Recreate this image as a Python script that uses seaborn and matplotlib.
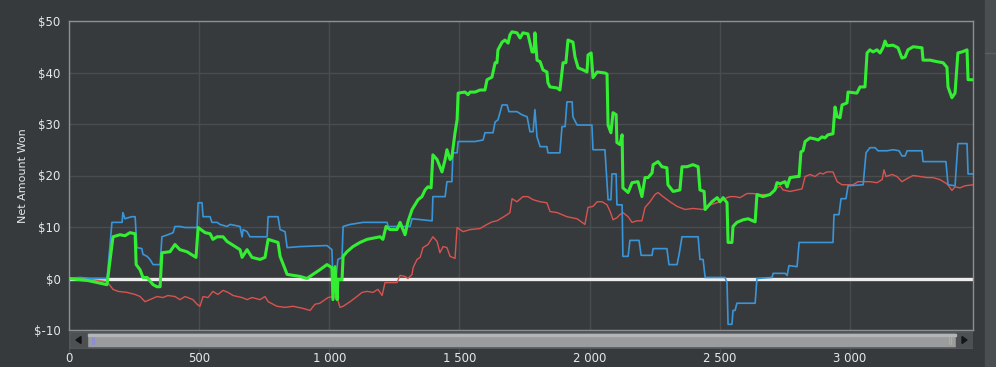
import numpy as np
import pandas as pd
import matplotlib
matplotlib.use("Agg")
import matplotlib.pyplot as plt
from matplotlib.patches import Rectangle, Polygon
import seaborn as sns

# ---------------- data ----------------
green_x = [0, 73, 146, 158, 169, 196, 215, 234, 254, 258, 273, 284, 300, 323, 338, 350, 357, 388, 407, 426,
           453, 488, 496, 523, 542, 553, 569, 592, 607, 657, 665, 684, 703, 734, 753, 765, 803, 811, 838, 888,
           914, 937, 964, 991, 1010, 1014, 1022, 1030, 1033, 1049, 1053, 1068, 1091, 1118, 1145, 1176, 1195,
           1206, 1218, 1233, 1260, 1272, 1291, 1302, 1318, 1329, 1341, 1356, 1368, 1379, 1391, 1398, 1414,
           1425, 1433, 1445, 1452, 1464, 1471, 1483, 1491, 1495, 1521, 1533, 1541, 1560, 1579, 1598, 1606,
           1625, 1637, 1644, 1648, 1664, 1675, 1687, 1694, 1702, 1721, 1733, 1744, 1763, 1779, 1787, 1790,
           1798, 1810, 1821, 1836, 1840, 1848, 1875, 1886, 1898, 1909, 1917, 1936, 1944, 1956, 1975, 1990,
           1994, 2006, 2013, 2029, 2059, 2067, 2071, 2082, 2090, 2102, 2105, 2117, 2125, 2128, 2148, 2163,
           2186, 2201, 2213, 2225, 2240, 2244, 2263, 2278, 2297, 2301, 2321, 2347, 2355, 2374, 2397, 2417,
           2424, 2440, 2444, 2470, 2490, 2501, 2513, 2528, 2532, 2547, 2551, 2566, 2590, 2609, 2636, 2643,
           2666, 2693, 2712, 2720, 2732, 2751, 2759, 2770, 2797, 2805, 2812, 2820, 2828, 2847, 2866, 2878,
           2893, 2904, 2916, 2935, 2943, 2951, 2962, 2970, 2989, 2993, 3027, 3039, 3058, 3066, 3077, 3089,
           3104, 3116, 3127, 3135, 3143, 3166, 3185, 3200, 3212, 3223, 3243, 3277, 3281, 3308, 3335, 3358,
           3373, 3377, 3392, 3404, 3415, 3431, 3450, 3454, 3473]
green_y = [0, -0.4, -1.2, 3.7, 8.1, 8.5, 8.3, 8.9, 8.7, 2.7, 1.7, 0.2, 0.2, -1.2, -1.6, -1.6, 5.0, 5.2, 6.6, 5.6,
           5.2, 4.1, 9.9, 8.9, 8.7, 7.6, 8.1, 8.1, 7.2, 5.6, 4.1, 5.6, 4.1, 3.7, 4.1, 7.6, 7.0, 4.3, 0.8, 0.4,
           0.0, 0.8, 1.7, 2.7, 2.1, -4.1, 2.3, -4.1, -0.2, -0.2, 4.3, 5.2, 6.2, 7.0, 7.6, 7.9, 8.1,
           7.6, 10.1, 9.5, 9.5, 10.9, 8.5, 11.0, 13.4, 14.3, 15.3, 15.9, 17.2, 17.8, 17.6, 24.0, 23.1,
           21.7, 20.7, 23.1, 25.0, 23.1, 23.6, 28.3, 30.8, 36.0, 36.2, 35.7, 36.2, 36.2, 36.6, 36.6, 38.6,
           39.1, 41.9, 41.9, 44.4, 45.9, 46.3, 45.7, 47.3, 47.9, 47.7, 46.7, 47.7, 47.5, 44.0, 44.0, 47.7,
           42.4, 42.1, 40.5, 40.1, 38.0, 37.2, 37.0, 36.6, 41.9, 41.9, 46.3, 45.9, 43.0, 40.9, 40.5, 40.1,
           43.4, 43.8, 39.0, 40.1, 39.9, 39.7, 29.8, 28.3, 32.2, 31.8, 26.4, 26.0, 27.9, 17.6, 16.7, 18.6,
           18.8, 15.9, 19.6, 19.6, 20.5, 22.1, 22.7, 21.7, 21.5, 18.2, 16.9, 17.2, 21.7, 21.7, 22.1, 21.7,
           17.2, 16.9, 13.4, 14.9, 15.7, 14.9, 15.7, 14.7, 7.0, 7.0, 10.1, 10.9, 11.4, 11.6, 11.0, 16.3,
           15.9, 16.3, 17.2, 18.6, 18.4, 18.8, 17.8, 19.6, 19.8, 19.8, 24.6, 24.8, 26.6, 27.3, 27.1, 26.9,
           27.5, 27.3, 27.9, 28.1, 33.3, 31.4, 31.2, 33.7, 34.1, 36.2, 36.0, 37.2, 37.2, 43.8, 44.4, 44.0,
           44.4, 43.8, 44.8, 46.1, 45.2, 45.3, 44.8, 42.8, 43.0, 44.4, 45.0, 44.8, 42.4, 42.4, 42.1, 41.9,
           41.0, 37.2, 35.1, 36.0, 43.8, 44.0, 44.4, 38.6, 38.6]

blue_x = [0, 42, 81, 146, 150, 165, 204, 207, 215, 227, 242, 254, 261, 280, 284, 300, 311, 323, 350, 357,
          380, 400, 407, 426, 446, 492, 496, 511, 515, 542, 549, 569, 580, 607, 619, 657, 665, 669, 684, 695,
          761, 765, 803, 811, 830, 838, 888, 991, 1010, 1014, 1026, 1033, 1049, 1053, 1080, 1130, 1222, 1226,
          1310, 1318, 1395, 1398, 1445, 1452, 1471, 1475, 1491, 1495, 1560, 1591, 1598, 1629, 1637, 1648,
          1664, 1683, 1690, 1721, 1740, 1760, 1771, 1783, 1790, 1798, 1810, 1836, 1840, 1886, 1894, 1906,
          1913, 1933, 1936, 1952, 2009, 2013, 2059, 2071, 2082, 2086, 2102, 2105, 2125, 2128, 2148, 2155,
          2190, 2198, 2240, 2244, 2297, 2305, 2336, 2344, 2355, 2417, 2424, 2436, 2444, 2520, 2528, 2532,
          2547, 2551, 2559, 2566, 2636, 2643, 2701, 2705, 2751, 2759, 2766, 2797, 2805, 2935, 2939, 2958,
          2966, 2985, 2993, 3051, 3062, 3077, 3097, 3108, 3143, 3166, 3189, 3200, 3212, 3220, 3277, 3281,
          3369, 3377, 3404, 3415, 3450, 3454, 3473]
blue_y = [0, 0.2, 0, 0, 2.1, 10.9, 10.9, 12.8, 11.6, 11.8, 12.0, 12.0, 6.0, 5.8, 4.7, 4.3, 3.7, 2.7, 2.7, 8.1,
          8.5, 8.9, 10.1, 10.1, 9.9, 9.9, 14.7, 14.7, 12.0, 12.0, 10.9, 10.9, 10.5, 10.1, 10.5, 10.1, 8.1, 9.5,
          9.1, 8.1, 8.1, 12.0, 12.0, 9.5, 9.1, 6.0, 6.2, 6.4, 5.6, -0.2, 0.2, 3.7, 4.1, 10.1, 10.5, 10.9, 10.9,
          10.1, 10.1, 11.6, 11.2, 15.9, 15.9, 18.8, 18.8, 24.4, 24.4, 26.6, 26.6, 26.9, 28.3, 28.3, 30.4, 30.8,
          33.7, 33.7, 32.4, 32.4, 31.8, 31.4, 28.5, 28.5, 32.8, 27.5, 25.6, 25.6, 24.4, 24.4, 29.5, 29.5,
          34.3, 34.3, 31.4, 29.8, 29.8, 25.0, 25.0, 15.3, 15.3, 20.3, 20.3, 14.3, 14.3, 4.3, 4.3, 7.4,
          7.4, 4.5, 4.5, 5.8, 5.8, 2.7, 2.7, 4.7, 8.1, 8.1, 3.7, 3.7, 0.2, 0.2, -0.8, -8.9,
          -8.9, -6.2, -6.2, -4.8, -4.8, 0, 0.2, 1.0, 1.0, 0.6, 2.5, 2.3, 7.0, 7.0, 12.4, 12.4,
          15.5, 15.5, 18.0, 18.2, 24.4, 25.4, 25.4, 24.8, 24.8, 25.0, 24.8, 23.8, 23.8, 24.8, 24.8, 22.7,
          22.7, 18.2, 18.0, 26.2, 26.2, 20.3, 20.3]

red_x = [0, 81, 146, 169, 188, 223, 254, 273, 292, 311, 338, 361, 380, 407, 426, 446, 476, 492, 503, 515,
         534, 553, 572, 592, 611, 630, 665, 684, 703, 734, 753, 765, 799, 830, 861, 899, 926, 945, 964, 984,
         995, 1014, 1030, 1041, 1053, 1080, 1106, 1126, 1145, 1168, 1187, 1203, 1214, 1260, 1272, 1291,
         1302, 1318, 1322, 1337, 1349, 1360, 1379, 1398, 1414, 1425, 1437, 1452, 1464, 1483, 1491, 1514,
         1541, 1579, 1606, 1625, 1644, 1664, 1683, 1694, 1702, 1721, 1744, 1763, 1783, 1810, 1836, 1848,
         1875, 1913, 1952, 1982, 1994, 2013, 2029, 2048, 2067, 2079, 2090, 2105, 2117, 2128, 2148, 2163,
         2182, 2201, 2213, 2232, 2251, 2263, 2282, 2309, 2336, 2367, 2397, 2436, 2463, 2501, 2528, 2540,
         2559, 2578, 2605, 2628, 2655, 2693, 2720, 2732, 2743, 2770, 2797, 2816, 2828, 2847, 2866, 2885,
         2897, 2912, 2935, 2951, 2970, 2993, 3012, 3031, 3051, 3077, 3104, 3124, 3131, 3139, 3162, 3181,
         3200, 3220, 3243, 3270, 3296, 3319, 3346, 3366, 3377, 3392, 3404, 3423, 3442, 3473]
red_y = [0, -0.2, -0.6, -2.1, -2.5, -2.7, -3.1, -3.5, -4.5, -4.1, -3.5, -3.7, -3.3, -3.5, -4.1, -3.5, -4.1,
         -5.0, -5.4, -3.5, -3.7, -2.5, -3.1, -2.3, -2.7, -3.3, -3.7, -4.1, -3.7, -4.1, -3.5, -4.5, -5.4, -5.6,
         -5.4, -5.8, -6.2, -5.0, -4.8, -4.1, -3.7, -3.5, -3.7, -5.6, -5.4, -4.5, -3.5, -2.7, -2.5, -2.7, -2.1,
         -3.3, -0.8, -0.8, 0.6, 0.4, 0, 0.8, 2.1, 3.7, 4.1, 6.0, 6.6, 8.1, 7.2, 5.0, 6.2, 6.0, 4.3, 3.9, 9.9,
         9.1, 9.5, 9.7, 10.5, 11.0, 11.2, 11.8, 12.4, 12.8, 15.5, 14.9, 15.9, 15.9, 15.3, 14.9, 14.7, 13.0,
         12.8, 12.0, 11.6, 10.5, 13.8, 14.0, 14.9, 14.9, 14.3, 13.0, 11.4, 11.8, 12.4, 12.8, 12.0, 10.9,
         11.2, 11.2, 13.8, 14.9, 16.3, 16.7, 15.9, 14.9, 14.0, 13.4, 13.6, 13.4, 14.3, 14.9, 15.7, 15.9,
         15.9, 15.7, 16.5, 16.5, 16.3, 16.3, 17.6, 18.0, 17.2, 16.9, 17.2, 17.4, 19.8, 20.2, 19.8, 20.5,
         20.3, 20.7, 20.7, 18.8, 18.2, 18.2, 18.2, 18.8, 18.8, 18.8, 18.6, 19.2, 21.1, 19.8, 20.2, 19.8,
         18.8, 19.4, 20.0, 19.8, 19.6, 19.6, 19.2, 18.6, 18.2, 17.1, 17.8, 17.6, 18.0, 18.2]

x_ticks = [0, 500, 1000, 1500, 2000, 2500, 3000]
x_tick_labels = ["0", "500", "1 000", "1 500", "2 000", "2 500", "3 000"]
y_ticks = [-10, 0, 10, 20, 30, 40, 50]
y_tick_labels = ["$-10", "$0", "$10", "$20", "$30", "$40", "$50"]
y_label = "Net Amount Won"

# ---------------- style ----------------
BG = "#373a3d"
GRID = "#4a4d50"
FRAME = "#8d8f91"
TXT = "#e6e8ea"

sns.set_style("dark")
plt.rcParams["font.family"] = ["DejaVu Sans"]

W, H = 996, 367
fig = plt.figure(figsize=(W / 100, H / 100), dpi=100, facecolor=BG)

def fx(px):
    return px / W

def fy(py):
    return 1 - py / H

L, R, T, B = 69, 973, 21, 330
ax = fig.add_axes([fx(L), fy(B), fx(R) - fx(L), fy(T) - fy(B)])
ax.set_facecolor(BG)

series = [
    ("red", red_x, red_y, "#d9534f", 1.0, 3),
    ("blue", blue_x, blue_y, "#3a95d8", 1.2, 4),
    ("green", green_x, green_y, "#33ee33", 2.2, 5),
]
ax.axhline(0, color="#ececec", lw=2.4, zorder=2)
for name, xs, ys, col, lw, z in series:
    df = pd.DataFrame({"game": xs, "won": ys})
    sns.lineplot(data=df, x="game", y="won", ax=ax, color=col, linewidth=lw,
                 estimator=None, sort=False, zorder=z)

ax.set_xlim(0, 3473)
ax.set_ylim(-10, 50)
ax.set_xticks(x_ticks)
ax.set_xticklabels(x_tick_labels)
ax.set_yticks(y_ticks)
ax.set_yticklabels(y_tick_labels)
ax.grid(True, color=GRID, lw=1.0)
ax.set_axisbelow(True)
ax.set_xlabel("")
ax.set_ylabel(y_label, color=TXT, fontsize=8, labelpad=4)
ax.tick_params(axis="y", colors=TXT, labelsize=8.5, length=4, width=1, pad=2, color=GRID)
ax.tick_params(axis="x", colors=TXT, labelsize=8.5, length=0, pad=16)
for s in ax.spines.values():
    s.set_color(FRAME)
    s.set_linewidth(1.0)

# ---------------- scrollbar ----------------
sax = fig.add_axes([fx(L), fy(349), fx(R) - fx(L), fy(331) - fy(349)])
sax.set_xlim(L, R)
sax.set_ylim(349, 331)
sax.axis("off")
sax.add_patch(Rectangle((L, 331), R - L, 18, color="#54575a", zorder=1))
sax.add_patch(Rectangle((88, 334), 868, 12, color="#9a9c9e", zorder=2))
sax.add_patch(Rectangle((88, 334), 868, 2, color="#b3b5b7", zorder=3))
sax.add_patch(Rectangle((71, 333), 16, 14, color="#4d5053", zorder=2))
sax.add_patch(Rectangle((956, 333), 16, 14, color="#4d5053", zorder=2))
sax.add_patch(Polygon([[76, 340], [81, 336.5], [81, 343.5]], color="#151515", zorder=4))
sax.add_patch(Polygon([[967, 340], [962, 336.5], [962, 343.5]], color="#151515", zorder=4))
for gx, gc in [(91.5, "#8a8bd0"), (93.5, "#8a8bd0"), (948.5, "#b8b85a"), (950.5, "#b8b85a")]:
    sax.plot([gx, gx], [337, 344], color=gc, lw=0.8, zorder=5)
for t in x_ticks:
    px = L + (R - L) * t / 3473
    fig.add_artist(plt.Line2D([fx(px), fx(px)], [fy(349), fy(352)], color=GRID, lw=1))

# ---------------- right side panel ----------------
fig.add_artist(Rectangle((fx(985), 0), fx(W) - fx(985), 1, transform=fig.transFigure,
                         color="#4b4e51", zorder=0))
fig.add_artist(plt.Line2D([fx(985), fx(996)], [fy(53), fy(53)], color="#5c5f62", lw=1))

fig.savefig("out.png", dpi=100, facecolor=BG)
